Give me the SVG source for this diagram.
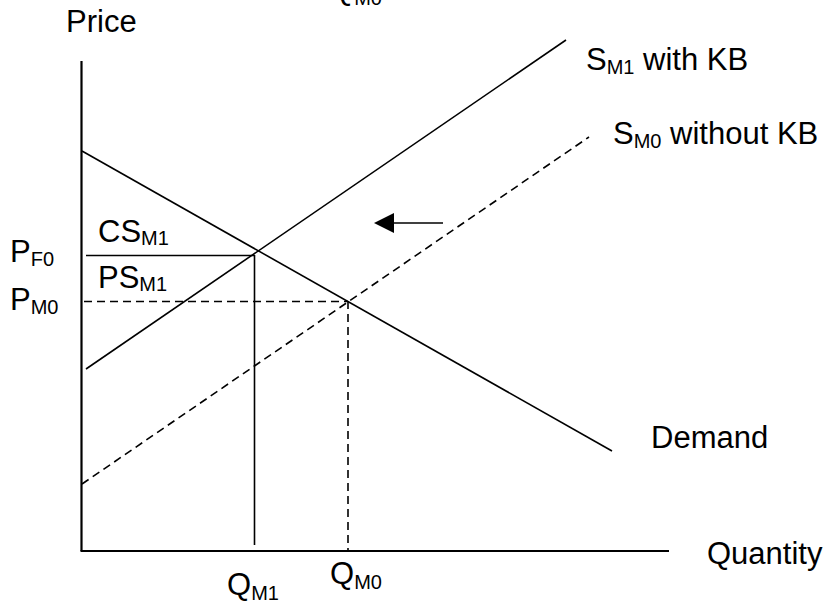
<svg xmlns="http://www.w3.org/2000/svg" width="828" height="606" viewBox="0 0 828 606">
<style>
text{font-family:"Liberation Sans",Arial,sans-serif;font-size:31px;fill:#000}
.sub{font-size:20px}
.ln{stroke:#000;stroke-width:1.6;fill:none}
.ax{stroke:#000;stroke-width:2.2;fill:none}
.ds{stroke:#000;stroke-width:1.6;fill:none;stroke-dasharray:8 5}
</style>
<defs>
<marker id="ah" markerWidth="20" markerHeight="20" refX="20" refY="10" orient="auto" markerUnits="userSpaceOnUse">
<path d="M20,10 L0,0 L0,20 Z" transform="rotate(180 10 10)" fill="#000"/>
</marker>
</defs>
<rect width="828" height="606" fill="#fff"/>
<g id="axes">
<line class="ax" x1="81.5" y1="61" x2="81.5" y2="551"/>
<line class="ax" x1="80.5" y1="551" x2="669" y2="551"/>
</g>
<g id="connectors">
<line id="demand" class="ln" x1="82" y1="151" x2="612" y2="451"/>
<line id="sm1" class="ln" x1="86" y1="369" x2="566" y2="40"/>
<line id="sm0" class="ds" x1="82" y1="484" x2="589" y2="137"/>
<line id="pf0" class="ln" x1="86" y1="255.5" x2="255" y2="255.5"/>
<line id="qm1" class="ln" x1="254.5" y1="255" x2="254.5" y2="545"/>
<line id="pm0" class="ds" x1="84" y1="301.5" x2="348" y2="301.5"/>
<line id="qm0" class="ds" x1="348" y1="301" x2="348" y2="551"/>
<line id="shift" class="ln" x1="443" y1="223" x2="390" y2="223"/>
<polygon points="374,223 394,213 394,233" fill="#000"/>
</g>
<g id="labels">
<text x="66" y="32">Price</text>
<text x="330" y="0">Q<tspan class="sub" dy="5">M0</tspan></text>
<text x="586" y="70">S<tspan class="sub" dy="4">M1</tspan><tspan dy="-4"> with KB</tspan></text>
<text x="613" y="144">S<tspan class="sub" dy="4">M0</tspan><tspan dy="-4"> without KB</tspan></text>
<text x="98" y="242">CS<tspan class="sub" dy="3">M1</tspan></text>
<text x="98" y="288">PS<tspan class="sub" dy="3">M1</tspan></text>
<text x="10" y="262">P<tspan class="sub" dy="4">F0</tspan></text>
<text x="10" y="310">P<tspan class="sub" dy="4">M0</tspan></text>
<text x="651" y="448">Demand</text>
<text x="707" y="564">Quantity</text>
<text x="227" y="595">Q<tspan class="sub" dy="5">M1</tspan></text>
<text x="330" y="584">Q<tspan class="sub" dy="5">M0</tspan></text>
</g>
</svg>
